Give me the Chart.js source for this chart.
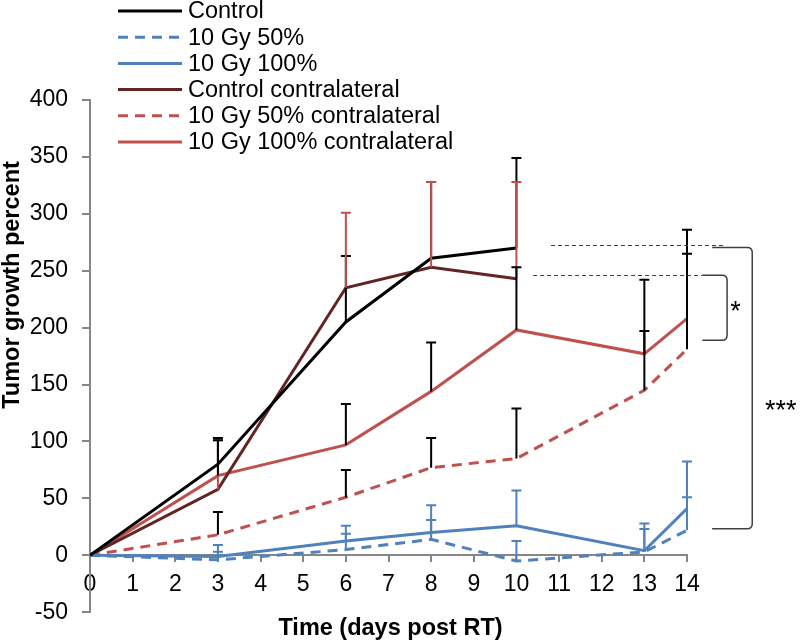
<!DOCTYPE html>
<html lang="en">
<head>
  <meta charset="UTF-8" />
  <title>Tumor growth percent</title>
  <style>
    html, body { margin: 0; padding: 0; background: #fff; }
    #chart-container { width: 800px; height: 640px; }
  </style>
</head>
<body>
  <div id="chart-container">
    <canvas id="growthChart" width="800" height="640"></canvas>
  </div>

  <script src="https://cdn.jsdelivr.net/npm/chart.js"></script>
  <script>
    const FONT = "'Liberation Sans', Arial, sans-serif";

    // series names, as in the legend
    const seriesNames = [
      'Control',
      '10 Gy 50%',
      '10 Gy 100%',
      'Control contralateral',
      '10 Gy 50% contralateral',
      '10 Gy 100% contralateral'
    ];

    // x values (days post RT)
    const controlDays = [0, 3, 6, 8, 10];
    const days = [0, 3, 6, 8, 10, 13, 14];

    // means and top of the error bars
    const control          = [0, 80, 205, 261, 270];
    const controlErr       = [null, 103, 263, 328, 349];
    const gy50             = [0, -4, 5, 14, -5, 3, 22];
    const gy50Err          = [null, 3, 19, 31, 12.5, 23, 51];
    const gy100            = [0, -1, 12.5, 20, 26, 4, 41];
    const gy100Err         = [null, 9, 26, 44, 57, 28, 82.5];
    const controlContra    = [0, 58, 235, 253, 243];
    const controlContraErr = [null, 101, 301, 328, 328];
    const gy50Contra       = [0, 18, 51, 77, 85, 145, 181];
    const gy50ContraErr    = [null, 38, 75, 103, 129, 197, 265];
    const gy100Contra      = [0, 70, 97, 144, 198, 177, 208];
    const gy100ContraErr   = [null, 101, 133, 187, 253, 242, 286];

    // axis range
    const yMin = -50, yMax = 400, yStep = 50;
    const xMin = 0, xMax = 14;

    // significance marks (in data units)
    const sigLines = [
      { y: 273, x0: 10.81, x1: 14.9 },
      { y: 246, x0: 10.39, x1: 14.36 }
    ];
    const brackets = [
      { x0: 14.36, x1: 14.94, yTop: 246, yBot: 189, label: '*', lx: 15.14, ly: 220 },
      { x0: 14.59, x1: 15.53, yTop: 270.5, yBot: 23.4, label: '***', lx: 16.2, ly: 133 }
    ];

    const colors = ['#000000', '#4f81bd', '#4f81bd', '#632523', '#c0504d', '#c0504d'];
    const dashes = [[], [10, 7], [], [], [10, 7], []];
    const errColors = ['#000000', '#4f81bd', '#4f81bd', '#c0504d', '#000000', '#000000'];
    const errOrder = [0, 3, 4, 5, 1, 2];

    const xs = [controlDays, days, days, controlDays, days, days];
    const ys = [control, gy50, gy100, controlContra, gy50Contra, gy100Contra];
    const errs = [controlErr, gy50Err, gy100Err, controlContraErr, gy50ContraErr, gy100ContraErr];

    function toPoints(xv, yv) {
      return xv.map((x, i) => ({ x: x, y: yv[i] }));
    }

    const datasets = seriesNames.map((name, i) => ({
      label: name,
      data: toPoints(xs[i], ys[i]),
      borderColor: colors[i],
      backgroundColor: colors[i],
      borderDash: dashes[i],
      borderWidth: 3,
      pointRadius: 0,
      tension: 0,
      fill: false
    }));

    // error bars, only the upper half like in the original
    const errorBars = {
      id: 'errorBars',
      afterDatasetsDraw(chart) {
        const { ctx, scales: { x, y } } = chart;
        ctx.save();
        ctx.lineWidth = 2;
        ctx.setLineDash([]);
        errOrder.forEach(i => {
          ctx.strokeStyle = errColors[i];
          xs[i].forEach((d, j) => {
            const top = errs[i][j];
            if (top === null || top === undefined) return;
            const px = x.getPixelForValue(d);
            const p0 = y.getPixelForValue(ys[i][j]);
            const p1 = y.getPixelForValue(top);
            ctx.beginPath();
            ctx.moveTo(px, p0);
            ctx.lineTo(px, p1);
            ctx.moveTo(px - 5, p1);
            ctx.lineTo(px + 5, p1);
            ctx.stroke();
          });
        });
        ctx.restore();
      }
    };

    // dashed reference lines, brackets and stars
    const significance = {
      id: 'significance',
      afterDraw(chart) {
        const { ctx, scales: { x, y } } = chart;
        ctx.save();
        ctx.strokeStyle = '#404040';
        ctx.lineWidth = 1;
        ctx.setLineDash([4, 3]);
        sigLines.forEach(l => {
          const py = Math.round(y.getPixelForValue(l.y)) + 0.5;
          ctx.beginPath();
          ctx.moveTo(x.getPixelForValue(l.x0), py);
          ctx.lineTo(x.getPixelForValue(l.x1), py);
          ctx.stroke();
        });
        ctx.setLineDash([]);
        ctx.lineWidth = 1.5;
        brackets.forEach(b => {
          const x0 = x.getPixelForValue(b.x0), x1 = x.getPixelForValue(b.x1);
          const t = y.getPixelForValue(b.yTop), bt = y.getPixelForValue(b.yBot);
          const r = 5;
          ctx.beginPath();
          ctx.moveTo(x0, t);
          ctx.lineTo(x1 - r, t);
          ctx.quadraticCurveTo(x1, t, x1, t + r);
          ctx.lineTo(x1, bt - r);
          ctx.quadraticCurveTo(x1, bt, x1 - r, bt);
          ctx.lineTo(x0, bt);
          ctx.stroke();
          ctx.fillStyle = '#000';
          ctx.font = '27px ' + FONT;
          ctx.textAlign = 'center';
          ctx.textBaseline = 'alphabetic';
          ctx.fillText(b.label, x.getPixelForValue(b.lx), y.getPixelForValue(b.ly) + 15);
        });
        ctx.restore();
      }
    };

    // legend in the top left corner, line samples like the original
    const lineLegend = {
      id: 'lineLegend',
      afterDraw(chart) {
        const ctx = chart.ctx;
        ctx.save();
        ctx.font = '23.5px ' + FONT;
        ctx.textAlign = 'left';
        ctx.textBaseline = 'middle';
        chart.data.datasets.forEach((ds, i) => {
          const ly = 11 + i * 26.2;
          ctx.strokeStyle = ds.borderColor;
          ctx.lineWidth = 3;
          ctx.setLineDash(ds.borderDash);
          ctx.beginPath();
          ctx.moveTo(118, ly);
          ctx.lineTo(182, ly);
          ctx.stroke();
          ctx.fillStyle = '#000';
          ctx.fillText(ds.label, 188, ly + 1);
        });
        ctx.restore();
      }
    };

    // axis titles: placed where the original has them
    const axisTitles = {
      id: 'axisTitles',
      afterDraw(chart) {
        const { ctx, chartArea } = chart;
        ctx.save();
        ctx.font = 'bold 23.5px ' + FONT;
        ctx.fillStyle = '#000';
        ctx.textAlign = 'center';
        ctx.textBaseline = 'middle';
        ctx.fillText('Time (days post RT)', (chartArea.left + chartArea.right) / 2 + 2, 629);
        ctx.translate(13, 285);
        ctx.rotate(-Math.PI / 2);
        ctx.fillText('Tumor growth percent', 0, 0);
        ctx.restore();
      }
    };

    const ctx = document.getElementById('growthChart').getContext('2d');
    const growthChart = new Chart(ctx, {
      type: 'line',
      data: { datasets: datasets },
      options: {
        responsive: false,
        animation: false,
        layout: { padding: { top: 100, right: 113, left: 0, bottom: -3 } },
        plugins: {
          legend: { display: false },
          tooltip: { enabled: false }
        },
        scales: {
          x: {
            type: 'linear',
            position: { y: 0 },
            min: xMin,
            max: xMax,
            afterFit: scale => { scale.height = 18; },
            ticks: {
              stepSize: 1,
              padding: 10,
              color: '#000',
              font: { family: FONT, size: 23 }
            },
            grid: { drawOnChartArea: false, color: '#868686', lineWidth: 2, tickLength: 6 },
            border: { color: '#868686', width: 2 }
          },
          y: {
            min: yMin,
            max: yMax,
            afterFit: scale => { scale.width = 90; },
            ticks: {
              stepSize: yStep,
              padding: 14,
              color: '#000',
              font: { family: FONT, size: 23 }
            },
            grid: { drawOnChartArea: false, color: '#868686', lineWidth: 2, tickLength: 8 },
            border: { color: '#868686', width: 2 }
          }
        }
      },
      plugins: [errorBars, significance, lineLegend, axisTitles]
    });
  </script>
</body>
</html>
